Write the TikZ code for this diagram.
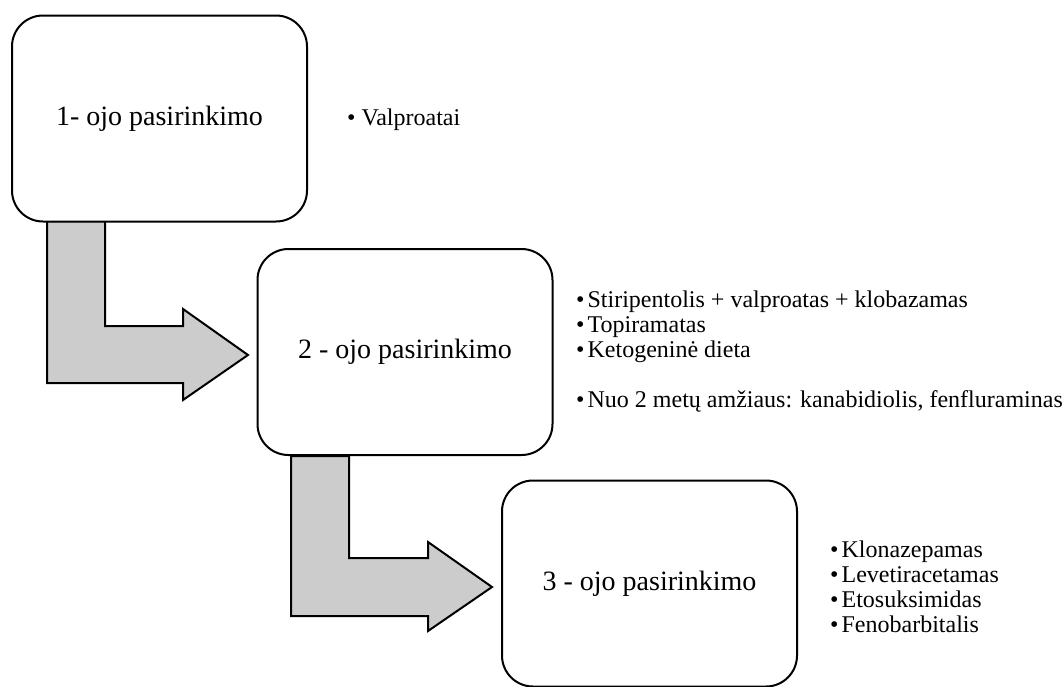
\documentclass[tikz,border=0pt]{standalone}
\usepackage{fontspec}
\setmainfont{Liberation Serif}
\definecolor{arrowgray}{HTML}{CCCCCC}
\begin{document}
\begin{tikzpicture}[x=1pt,y=-1pt,
  box/.style={draw, line width=2pt, rounded corners=31pt, fill=white,
    minimum width=295pt, minimum height=206pt, inner sep=0pt,
    font=\fontsize{28}{32}\selectfont},
  bentarrow/.style={draw, line width=2pt, fill=arrowgray, line join=miter},
  itemlist/.style={anchor=west, align=left, inner sep=0pt,
    font=\fontsize{24}{25}\selectfont}]
\useasboundingbox (0,0) rectangle (1062,686);

% bent arrows (drawn first, under the boxes)
\draw[bentarrow] (47,221) -- (105,221) -- (105,326) -- (183,326) -- (183,309)
  -- (248,355) -- (183,400) -- (183,383) -- (47,383) -- cycle;
\draw[bentarrow] (291,456) -- (349,456) -- (349,558) -- (428,558) -- (428,542)
  -- (492,587) -- (428,631) -- (428,616) -- (291,616) -- cycle;

% boxes
\node[box] (b1) at (159.5,118.5) {1- ojo pasirinkimo};
\node[box] (b2) at (405,352) {2 - ojo pasirinkimo};
\node[box] (b3) at (649.5,583.5) {3 - ojo pasirinkimo};

% lists
\node[itemlist] (l1) at (347,120) {• Valproatai};
\node[itemlist] (l2) at (576,352) {•\hspace{3pt}Stiripentolis + valproatas + klobazamas\\
•\hspace{3pt}Topiramatas\\
•\hspace{3pt}Ketogeninė dieta\\[25pt]
•\hspace{3pt}Nuo 2 metų amžiaus: kanabidiolis, fenfluraminas};
\node[itemlist] (l3) at (830,587) {•\hspace{3pt}Klonazepamas\\
•\hspace{3pt}Levetiracetamas\\
•\hspace{3pt}Etosuksimidas\\
•\hspace{3pt}Fenobarbitalis};
\end{tikzpicture}
\end{document}
